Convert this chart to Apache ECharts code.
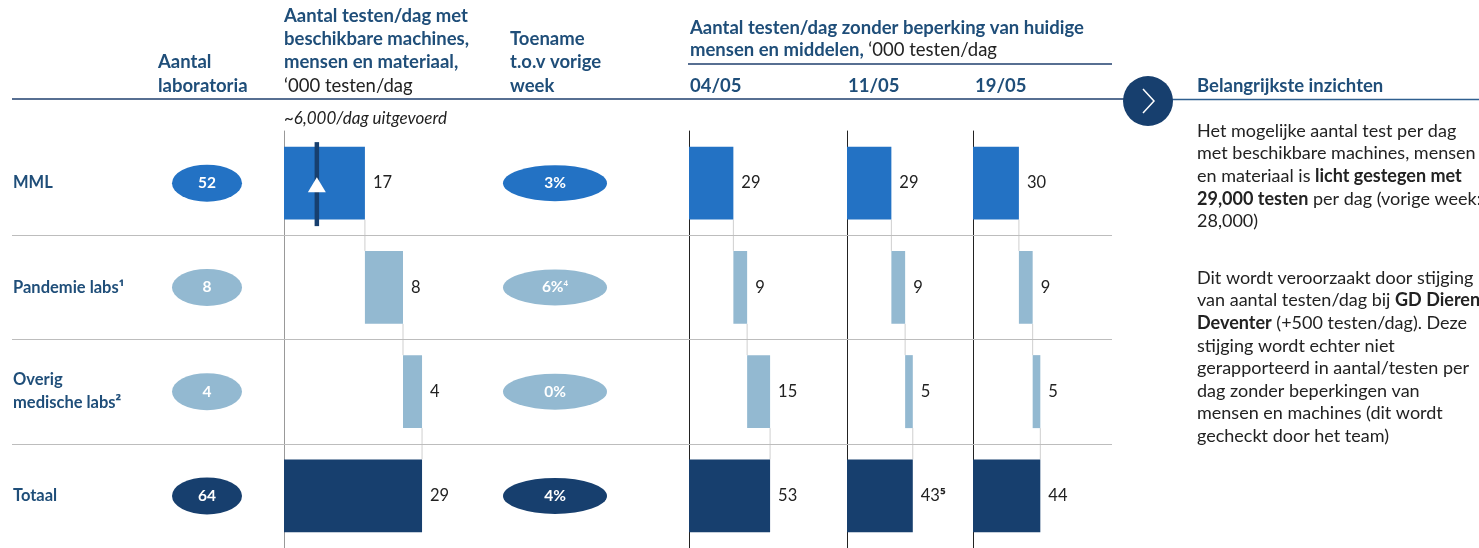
<!DOCTYPE html>
<html>
<head>
<meta charset="utf-8">
<script src="https://cdn.jsdelivr.net/npm/echarts@6/dist/echarts.min.js"></script>
<style>
html, body { margin: 0; padding: 0; background: #fff; }
#chart { width: 1479px; height: 548px; }
</style>
</head>
<body>
<div id="chart"></div>
<script>
// rijen van de tabel
var rows = ['MML', 'Pandemie labs', 'Overig medische labs', 'Totaal'];
var rowNames = ['MML', 'Pandemie labs', 'Overig\nmedische labs', 'Totaal'];
var rowNotes = ['', '¹', '²', ''];
var labCount = [52, 8, 4, 64];
var capacity = [17, 8, 4, 29];          // '000 testen/dag met beschikbare middelen
var capacityNotes = ['', '', '', ''];
var performed = 6.9;                    // ~6,000/dag uitgevoerd
var growth = [3, 6, 0, 4];              // % t.o.v. vorige week
var growthNotes = ['', '⁴', '', ''];
var dates = ['04/05', '11/05', '19/05'];
var cap0405 = [29, 9, 15, 53];
var cap1105 = [29, 9, 5, 43];
var cap1905 = [30, 9, 5, 44];
var notes0405 = ['', '', '', ''];
var notes1105 = ['', '', '', '⁵'];
var notes1905 = ['', '', '', ''];

var rowColors = ['#2372c4', '#93b9d1', '#93b9d1', '#173f6e'];
var navy = '#1f4e79';
var FONT = 'Lato';
var SUP = 'Noto Sans';
var HEAD = 18.5;

var chart = echarts.init(document.getElementById('chart'));

var TOP = 131, H = 418;
function grid(left, width) { return { left: left, width: width, top: TOP, height: H }; }

var grids = [
    grid(12, 1100),   // 0 achtergrond + rijnamen
    grid(160, 94),    // 1 aantal labs
    grid(284, 190.4), // 2 capaciteit
    grid(503, 104),   // 3 toename
    grid(689, 122.4), // 4 04/05
    grid(847, 122.4), // 5 11/05
    grid(973, 122.4)  // 6 19/05
];
var xMax = [1, 1, 40, 1, 80, 80, 80];

var xAxes = grids.map(function (g, i) {
    return { type: 'value', gridIndex: i, min: 0, max: xMax[i], show: false };
});
var yAxes = grids.map(function (g, i) {
    var y = { type: 'category', gridIndex: i, data: rows, inverse: true, show: false };
    if (i === 0) {
        y.show = true;
        y.axisLine = { show: false };
        y.axisTick = { show: false };
        y.axisLabel = {
            inside: true, margin: 1,
            formatter: function (v, idx) {
                var parts = rowNames[idx].split('\n').map(function (s) { return '{b|' + s + '}'; });
                var out = parts.join('\n');
                if (rowNotes[idx]) out += '{s|' + rowNotes[idx] + '}';
                return out;
            },
            rich: {
                b: { color: navy, fontWeight: 'bold', fontSize: 16.5, fontFamily: FONT, lineHeight: 23 },
                s: { color: navy, fontWeight: 'bold', fontSize: 15, fontFamily: SUP, lineHeight: 23 }
            }
        };
    }
    if (i === 2 || i >= 4) {
        y.show = true;
        y.axisLine = { show: true, lineStyle: { color: i === 2 ? '#999' : '#222', width: 1 } };
        y.axisTick = { show: false };
        y.axisLabel = { show: false };
    }
    return y;
});
// waarde-as voor de scheidingslijnen
yAxes.push({ type: 'value', gridIndex: 0, min: 0, max: 4, inverse: true, show: false });

function connector(params, api) {
    var x = api.value(0), i = api.value(1);
    var p1 = api.coord([x, i]), p2 = api.coord([x, i + 1]);
    var half = api.size([0, 1])[1] * 0.35;
    return {
        type: 'line',
        shape: { x1: p1[0], y1: p1[1] + half, x2: p2[0], y2: p2[1] - half },
        style: { stroke: '#cfcfcf', lineWidth: 1 }
    };
}

function waterfall(gi, vals, notes) {
    var base = vals.map(function (v, i) {
        if (i === vals.length - 1) return 0;
        var s = 0;
        for (var k = 0; k < i; k++) s += vals[k];
        return s;
    });
    var links = [];
    for (var i = 0; i < vals.length - 1; i++) links.push([base[i] + vals[i], i]);
    return [
        {
            type: 'bar', stack: 'w' + gi, xAxisIndex: gi, yAxisIndex: gi, barWidth: '70%',
            silent: true, itemStyle: { color: 'transparent' }, data: base
        },
        {
            type: 'bar', stack: 'w' + gi, xAxisIndex: gi, yAxisIndex: gi, barWidth: '70%',
            data: vals.map(function (v, i) { return { value: v, itemStyle: { color: rowColors[i] } }; }),
            label: {
                show: true, position: 'right', distance: 8,
                formatter: function (p) {
                    var n = notes[p.dataIndex];
                    return '{v|' + p.value + '}' + (n ? '{s|' + n + '}' : '');
                },
                rich: {
                    v: { color: '#222', fontSize: 16.5, fontFamily: FONT },
                    s: { color: '#222', fontSize: 15, fontFamily: SUP, fontWeight: 'bold' }
                }
            }
        },
        {
            type: 'custom', xAxisIndex: gi, yAxisIndex: gi, renderItem: connector, data: links, silent: true, z: 1
        }
    ];
}

function ellipses(gi, size, vals, fmt) {
    return {
        type: 'scatter', xAxisIndex: gi, yAxisIndex: gi, symbol: 'circle', symbolSize: size,
        data: vals.map(function (v, i) { return { value: [0.5, i], itemStyle: { color: rowColors[i], opacity: 1 } }; }),
        label: {
            show: true, position: 'inside',
            formatter: function (p) { return fmt(p.dataIndex); },
            rich: {
                w: { color: '#fff', fontWeight: 'bold', fontSize: 15.5, fontFamily: FONT },
                s: { color: '#fff', fontSize: 13, fontFamily: SUP }
            }
        }
    };
}

var series = [];
// scheidingslijnen tussen rijen
series.push({
    type: 'line', xAxisIndex: 0, yAxisIndex: grids.length, data: [], silent: true,
    markLine: {
        symbol: 'none', silent: true, label: { show: false },
        lineStyle: { color: '#bdbdbd', type: 'solid', width: 1 },
        data: [{ yAxis: 1 }, { yAxis: 2 }, { yAxis: 3 }]
    }
});
series.push(ellipses(1, [70, 37], labCount, function (i) { return '{w|' + labCount[i] + '}'; }));
series.push(ellipses(3, [104, 36], growth, function (i) {
    return '{w|' + growth[i] + '%}' + (growthNotes[i] ? '{s|' + growthNotes[i] + '}' : '');
}));
series = series.concat(waterfall(2, capacity, capacityNotes));
series = series.concat(waterfall(4, cap0405, notes0405));
series = series.concat(waterfall(5, cap1105, notes1105));
series = series.concat(waterfall(6, cap1905, notes1905));
// markering ~6,000/dag uitgevoerd
series.push({
    type: 'custom', xAxisIndex: 2, yAxisIndex: 2, data: [[performed, 0]], z: 5,
    renderItem: function (params, api) {
        var p = api.coord([api.value(0), api.value(1)]);
        return {
            type: 'group',
            children: [
                { type: 'rect', shape: { x: p[0] - 2.25, y: p[1] - 41, width: 4.5, height: 84 }, style: { fill: '#173f6e' } },
                { type: 'polygon', shape: { points: [[p[0], p[1] - 6], [p[0] - 9, p[1] + 9], [p[0] + 9, p[1] + 9]] }, style: { fill: '#fff' } }
            ]
        };
    }
});

function txt(x, y, text, extra) {
    var st = {
        text: text, fill: navy, fontSize: HEAD, fontWeight: 'bold', fontFamily: FONT,
        align: 'left', verticalAlign: 'middle', textAlign: 'left', textVerticalAlign: 'middle'
    };
    for (var k in extra) st[k] = extra[k];
    return { type: 'text', x: x, y: y, style: st, silent: true };
}

var BODY = 18;
var bodyRich = {
    b: { fontWeight: 'bold', fontSize: BODY, fontFamily: FONT, fill: '#222', color: '#222', lineHeight: 22.6 },
    n: { fontWeight: 'normal', fontSize: BODY, fontFamily: FONT, fill: '#222', color: '#222', lineHeight: 22.6 }
};
var bodyStyle = {
    fill: '#222', fontWeight: 'normal', fontSize: BODY, lineHeight: 22.6,
    verticalAlign: 'top', textVerticalAlign: 'top', rich: bodyRich
};

var graphics = [
    txt(158, 62, 'Aantal'),
    txt(158, 86, 'laboratoria'),
    txt(284, 16, 'Aantal testen/dag met'),
    txt(284, 39, 'beschikbare machines,'),
    txt(284, 62, 'mensen en materiaal,'),
    txt(284, 86, '‘000 testen/dag', { fontWeight: 'normal', fill: '#222' }),
    txt(510, 39, 'Toename'),
    txt(510, 62, 't.o.v vorige'),
    txt(510, 86, 'week'),
    txt(690, 28, 'Aantal testen/dag zonder beperking van huidige'),
    txt(690, 50, '{b|mensen en middelen, }{n|‘000 testen/dag}', {
        rich: {
            b: { fontWeight: 'bold', fontSize: HEAD, fontFamily: FONT, fill: navy, color: navy },
            n: { fontWeight: 'normal', fontSize: HEAD, fontFamily: FONT, fill: '#222', color: '#222' }
        }
    }),
    txt(690, 86, dates[0]),
    txt(848, 86, dates[1]),
    txt(975, 86, dates[2]),
    txt(284, 119, '~6,000/dag uitgevoerd', { fontWeight: 'normal', fontStyle: 'italic', fill: '#222', fontSize: 17 }),
    txt(1197, 86, 'Belangrijkste inzichten'),
    { type: 'line', shape: { x1: 12, y1: 99, x2: 1124, y2: 99 }, style: { stroke: '#1f3f6e', lineWidth: 1.5 }, silent: true },
    { type: 'line', shape: { x1: 1124, y1: 99.5, x2: 1479, y2: 99.5 }, style: { stroke: '#2f5f8f', lineWidth: 1.5 }, silent: true },
    { type: 'line', shape: { x1: 688, y1: 64, x2: 1112, y2: 64 }, style: { stroke: '#1f3f6e', lineWidth: 1.5 }, silent: true },
    { type: 'circle', shape: { cx: 1148, cy: 101, r: 25 }, style: { fill: '#173f6e' }, silent: true },
    {
        type: 'polyline', shape: { points: [[1143, 89], [1154, 101], [1143, 113]] },
        style: { stroke: '#fff', lineWidth: 1.5, fill: null }, silent: true
    },
    txt(1197, 119.7, 'Het mogelijke aantal test per dag\nmet beschikbare machines, mensen\nen materiaal is {b|licht gestegen met}\n{b|29,000 testen} per dag (vorige week:\n28,000)', bodyStyle),
    txt(1197, 266.7, 'Dit wordt veroorzaakt door stijging\nvan aantal testen/dag bij {b|GD Dieren}\n{b|Deventer} (+500 testen/dag). Deze\nstijging wordt echter niet\ngerapporteerd in aantal/testen per\ndag zonder beperkingen van\nmensen en machines (dit wordt\ngecheckt door het team)', bodyStyle)
];

chart.setOption({
    animation: false,
    backgroundColor: '#fff',
    grid: grids,
    xAxis: xAxes,
    yAxis: yAxes,
    series: series,
    graphic: { elements: graphics }
});
</script>
</body>
</html>
